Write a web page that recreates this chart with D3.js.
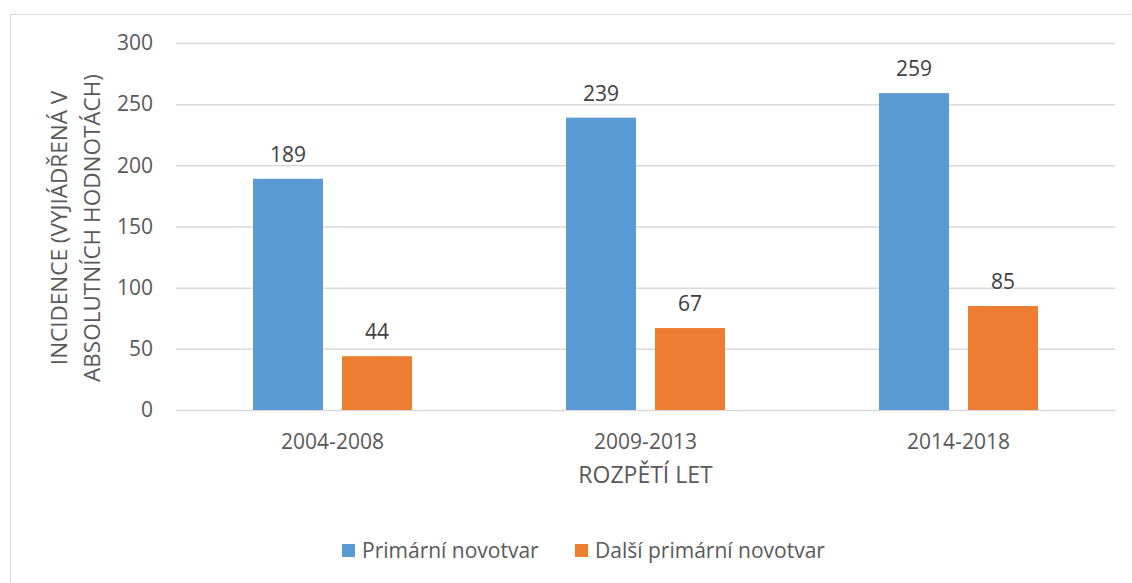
<!DOCTYPE html>
<html>
<head>
<meta charset="utf-8">
<script src="https://cdn.jsdelivr.net/npm/d3@7"></script>
<style>
  body { margin: 0; background: #fff; }
  text { font-family: "Open Sans", Calibri, sans-serif; fill: #595959; }
</style>
</head>
<body>
<div id="chart"></div>
<script>
const categories = ["2004-2008", "2009-2013", "2014-2018"];
const seriesNames = ["Primární novotvar", "Další primární novotvar"];
const primary = [189, 239, 259];
const secondary = [44, 67, 85];
const yTicks = [0, 50, 100, 150, 200, 250, 300];
const colors = ["#5b9bd5", "#ed7d31"];

const W = 1132, H = 583;
const margin = { top: 43, right: 17, bottom: 173, left: 176 };
const width = W - margin.left - margin.right,
      height = H - margin.top - margin.bottom;

const svg = d3.select("#chart").append("svg")
    .attr("width", W).attr("height", H);

// chart frame
svg.append("rect")
    .attr("x", 10.5).attr("y", 14.5)
    .attr("width", W).attr("height", H)
    .attr("fill", "none").attr("stroke", "#d9d9d9");

const g = svg.append("g").attr("transform", `translate(${margin.left},${margin.top})`);

const x = d3.scaleBand().domain(categories).range([0, width]);
const y = d3.scaleLinear().domain([0, 300]).range([height, 0]);

// gridlines + y labels
const yAxis = g.append("g")
    .call(d3.axisLeft(y).tickValues(yTicks).tickSize(-width).tickPadding(23));
yAxis.select(".domain").remove();
yAxis.selectAll(".tick line").attr("stroke", "#d9d9d9").attr("stroke-width", 1.5);
yAxis.selectAll(".tick text").style("font-size", "21px").style("fill", "#595959");

// bars
const barW = 70, gap = 19;
const data = categories.map((c, i) => ({ cat: c, vals: [primary[i], secondary[i]] }));

data.forEach(d => {
    const cx = x(d.cat) + x.bandwidth() / 2;
    d.vals.forEach((v, s) => {
        const bx = cx - gap / 2 - barW + s * (barW + gap);
        g.append("rect")
            .attr("x", bx).attr("y", y(v))
            .attr("width", barW).attr("height", height - y(v))
            .attr("fill", colors[s]);
        g.append("text")
            .attr("x", bx + barW / 2).attr("y", y(v) - 17)
            .attr("text-anchor", "middle")
            .style("font-size", "21px").style("fill", "#404040")
            .text(v);
    });
});

// x axis labels
const xAxis = g.append("g")
    .attr("transform", `translate(0,${height})`)
    .call(d3.axisBottom(x).tickSize(0).tickPadding(24));
xAxis.select(".domain").remove();
xAxis.selectAll(".tick text").style("font-size", "21px").style("fill", "#595959");

// axis titles
svg.append("text")
    .attr("x", margin.left + width / 2).attr("y", 483)
    .attr("text-anchor", "middle")
    .style("font-size", "23px")
    .text("ROZPĚTÍ LET");

const yt = svg.append("text")
    .attr("transform", `translate(67,228) rotate(-90)`)
    .attr("text-anchor", "middle")
    .style("font-size", "22.5px");
yt.append("tspan").attr("x", 0).attr("dy", 0).text("INCIDENCE (VYJIÁDŘENÁ V");
yt.append("tspan").attr("x", 0).attr("dy", 33).text("ABSOLUTNÍCH HODNOTÁCH)");

// legend
const legendX = [342, 575];
seriesNames.forEach((n, i) => {
    const lg = svg.append("g").attr("transform", `translate(${legendX[i]},544)`);
    lg.append("rect").attr("width", 13).attr("height", 13).attr("fill", colors[i]);
    lg.append("text").attr("x", 20).attr("y", 14)
        .style("font-size", "21px").text(n);
});
</script>
</body>
</html>
